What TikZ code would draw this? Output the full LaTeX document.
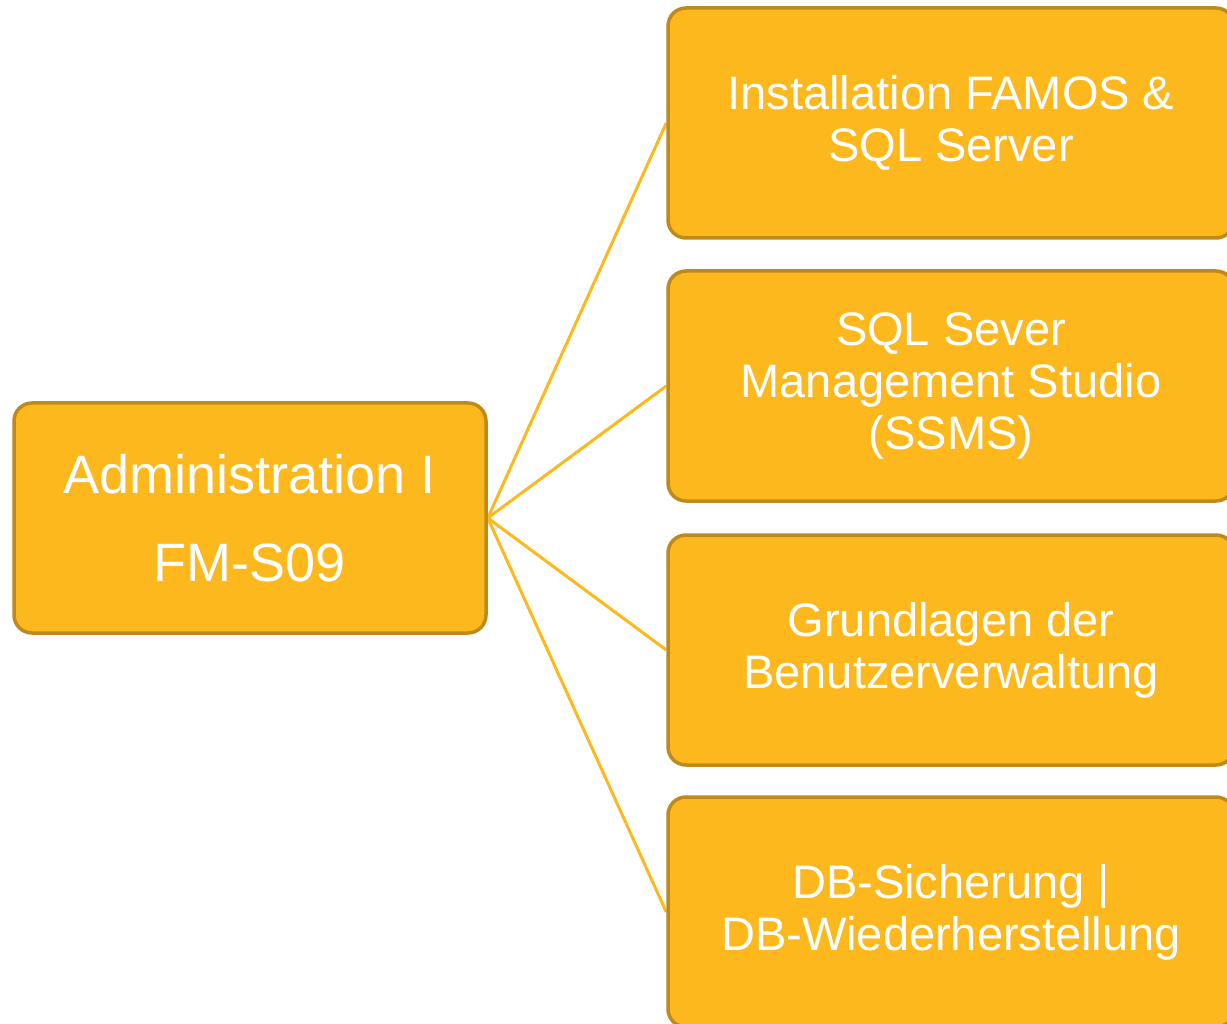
\documentclass[tikz,border=0pt]{standalone}
\usepackage{fontspec}
\setmainfont{Liberation Sans}
\usetikzlibrary{backgrounds}
\definecolor{boxfill}{HTML}{FDB81E}
\definecolor{boxedge}{HTML}{BE8A1B}
\begin{document}
\begin{tikzpicture}[x=1pt,y=-1pt,
  card/.style={draw=boxedge, fill=boxfill, line width=3.5pt, rounded corners=18pt,
    text=white, align=center, inner sep=0pt},
  rootcard/.style={card, minimum width=472pt, minimum height=230pt,
    font=\fontsize{54}{88}\selectfont},
  subcard/.style={card, minimum width=566pt, minimum height=230pt,
    font=\fontsize{47}{52}\selectfont},
  conn/.style={draw=boxfill, line width=3pt}]
\useasboundingbox (0,0) rectangle (1227,1024);
\node[rootcard] (root) at (250,518) {Administration I\\FM-S09};
\node[subcard] (b1) at (951,123) {Installation FAMOS \&\\SQL Server};
\node[subcard] (b2) at (951,386) {SQL Sever\\Management Studio\\(SSMS)};
\node[subcard] (b3) at (951,650) {Grundlagen der\\Benutzerverwaltung};
\node[subcard] (b4) at (951,912) {DB-Sicherung |\\DB-Wiederherstellung};
\begin{pgfonlayer}{background}
\draw[conn] (root.east) -- (b1.west);
\draw[conn] (root.east) -- (b2.west);
\draw[conn] (root.east) -- (b3.west);
\draw[conn] (root.east) -- (b4.west);
\end{pgfonlayer}
\end{tikzpicture}
\end{document}
